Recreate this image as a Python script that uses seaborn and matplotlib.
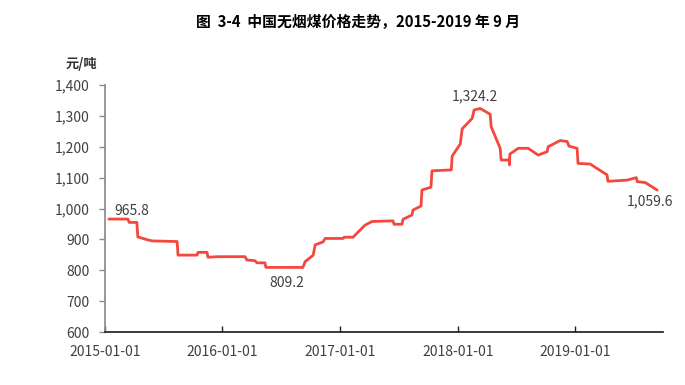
import matplotlib
matplotlib.use("Agg")
import matplotlib.pyplot as plt
import matplotlib.dates as mdates
import seaborn as sns
import pandas as pd

sns.set_theme(style="white")
plt.rcParams['font.family'] = ['Noto Sans CJK SC', 'DejaVu Sans']

title = "图  3-4  中国无烟煤价格走势，2015-2019 年 9 月"
unit_label = "元/吨"

dates = [
    "2015-01-13", "2015-03-13", "2015-03-17", "2015-04-10", "2015-04-13", "2015-05-15",
    "2015-05-28", "2015-08-13", "2015-08-16", "2015-10-14", "2015-10-17", "2015-11-14",
    "2015-11-17", "2015-12-15", "2016-03-11", "2016-03-17", "2016-04-11", "2016-04-17",
    "2016-05-12", "2016-05-15", "2016-09-07", "2016-09-14", "2016-10-09", "2016-10-15",
    "2016-11-09", "2016-11-15", "2017-01-10", "2017-01-13", "2017-02-10", "2017-02-22",
    "2017-03-19", "2017-04-10", "2017-06-14", "2017-06-17", "2017-07-12", "2017-07-15",
    "2017-08-12", "2017-08-15", "2017-09-09", "2017-09-12", "2017-10-10", "2017-10-13",
    "2017-12-12", "2017-12-15", "2018-01-09", "2018-01-15", "2018-02-15", "2018-02-21",
    "2018-03-12", "2018-04-12", "2018-04-15", "2018-05-13", "2018-05-16", "2018-06-10",
    "2018-06-11", "2018-06-12", "2018-07-08", "2018-08-08", "2018-09-08", "2018-10-06",
    "2018-10-09", "2018-11-15", "2018-12-07", "2018-12-13", "2019-01-07", "2019-01-10",
    "2019-02-17", "2019-03-14", "2019-04-10", "2019-04-13", "2019-05-12", "2019-06-12",
    "2019-07-10", "2019-07-13", "2019-08-07", "2019-09-13",
]
prices = [
    965.8, 965.8, 955, 955, 908, 898,
    895, 893, 849, 849, 858, 858,
    842, 844, 844, 833, 831, 824,
    824, 809.2, 809.2, 828, 849, 882,
    892, 903, 903, 907, 907, 920,
    946, 958, 960, 949, 949, 965,
    979, 995, 1008, 1060, 1069, 1122,
    1125, 1170, 1209, 1258, 1292, 1319,
    1324.2, 1305, 1265, 1195, 1157, 1157,
    1141, 1176, 1195, 1195, 1173, 1184,
    1200, 1220, 1217, 1202, 1195, 1146,
    1144, 1127, 1109, 1088, 1090, 1092,
    1100, 1087, 1084, 1059.6,
]
xtick_labels = ["2015-01-01", "2016-01-01", "2017-01-01", "2018-01-01", "2019-01-01"]
yticks = [600, 700, 800, 900, 1000, 1100, 1200, 1300, 1400]
annot_dates = ["2015-01-13", "2016-07-20", "2018-03-12", "2019-09-13"]
annot_values = [965.8, 809.2, 1324.2, 1059.6]

df = pd.DataFrame({"date": pd.to_datetime(dates), "price": prices})

fig = plt.figure(figsize=(6.85, 3.85), dpi=100)
ax = fig.add_axes([105/685, 1 - 332/385, (663-105)/685, (332-85)/385])

sns.lineplot(data=df, x="date", y="price", ax=ax, color="#F4473D", linewidth=2.0)

ax.set_ylim(600, 1400)
ax.set_xlim(pd.Timestamp("2015-01-01"), pd.Timestamp("2019-10-01"))
ax.set_yticks(yticks)
ax.set_yticklabels([f"{v:,}" for v in yticks])
ax.set_xticks(pd.to_datetime(xtick_labels))
ax.set_xticklabels(xtick_labels)
ax.set_xlabel("")
ax.set_ylabel("")

for s in ["top", "right"]:
    ax.spines[s].set_visible(False)
ax.spines["left"].set_color("#8c8c8c")
ax.spines["bottom"].set_color("#222222")
ax.tick_params(axis="y", direction="out", length=4, width=1, color="#8c8c8c",
               labelsize=10, labelcolor="#404040", pad=7, left=True)
ax.tick_params(axis="x", direction="in", length=4, width=1, color="#222222",
               labelsize=10, labelcolor="#404040", pad=9, bottom=True)

labels = [f"{v:,.1f}" for v in annot_values]
ad = pd.to_datetime(annot_dates)
ax.annotate(labels[0], (ad[0], annot_values[0]), xytext=(4, 1), textcoords="offset points",
            ha="left", va="bottom", fontsize=10, color="#404040")
ax.annotate(labels[1], (ad[1], annot_values[1]), xytext=(0, -6), textcoords="offset points",
            ha="center", va="top", fontsize=10, color="#404040")
ax.annotate(labels[2], (ad[2], annot_values[2]), xytext=(-4, 4), textcoords="offset points",
            ha="center", va="bottom", fontsize=10, color="#404040")
ax.annotate(labels[3], (ad[3], annot_values[3]), xytext=(-5, -3), textcoords="offset points",
            ha="center", va="top", fontsize=10, color="#404040")

fig.text(81/685, 1 - 64/385, unit_label, ha="center", va="center", fontsize=9.5,
         fontweight="bold", color="#333333")
fig.text(358/685, 1 - 21/385, title, ha="center", va="center", fontsize=10.7,
         fontweight="bold", color="#000000")

fig.savefig("out.png", dpi=100, facecolor="white")
